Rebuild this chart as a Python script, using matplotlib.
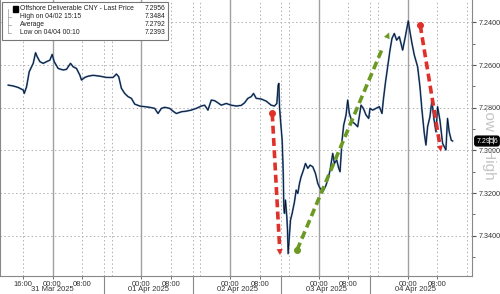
import numpy as np
import matplotlib
matplotlib.use("Agg")
import matplotlib.pyplot as plt
from matplotlib.patches import Rectangle

matplotlib.rcParams['font.family'] = ['Liberation Sans', 'DejaVu Sans']

# hours since 2025-03-31 00:00 and USD/CNH last price
hours = [-11.97, -10.62, -9.27, -7.92, -7.65, -7.02, -6.30, -5.67, -5.22, -4.59, -4.14, -3.42,
         -2.52, -1.62, -0.72, -0.09, 0.45, 1.53, 2.88, 3.78, 4.86, 5.58, 6.48, 7.38, 7.83, 8.73,
         9.63, 10.98, 12.78, 14.58, 16.37, 17.27, 17.90, 18.62, 19.52, 20.42, 21.32, 22.22, 23.57,
         24.92, 26.27, 27.62, 28.52, 29.42, 30.32, 31.67, 32.57, 33.47, 34.82, 36.17, 37.52, 38.87,
         40.22, 41.12, 42.02, 42.92, 43.82, 44.72, 45.61, 46.96, 48.31, 49.66, 51.01, 51.91, 52.81,
         53.71, 54.34, 55.06, 56.41, 57.76, 59.11, 60.01, 60.64, 61.00, 61.18, 61.36, 61.63, 62.08,
         62.35, 62.53, 62.71, 62.98, 63.34, 63.52, 63.70, 64.33, 64.78, 65.41, 65.86, 66.31, 66.76,
         67.21, 67.84, 68.38, 69.01, 69.64, 70.36, 71.08, 71.71, 72.34, 73.06, 73.78, 74.41, 75.04,
         75.75, 76.20, 76.83, 77.37, 77.73, 78.27, 78.72, 79.35, 79.80, 80.25, 80.97, 81.60, 82.50,
         83.40, 84.03, 84.75, 85.47, 85.83, 86.55, 87.45, 88.35, 89.07, 89.43, 89.97, 90.60, 91.23,
         91.77, 92.40, 93.03, 93.75, 94.65, 95.37, 96.17, 96.63, 97.17, 97.80, 98.70, 99.33, 99.87,
         100.50, 100.95, 101.40, 102.03, 102.57, 103.02, 103.65, 104.10, 104.73, 105.45, 106.34,
         106.79, 107.24, 107.79, 108.15]
price = [7.2694, 7.2698, 7.2705, 7.2717, 7.2733, 7.2702, 7.2631, 7.2608, 7.2592, 7.2542, 7.2561,
         7.2584, 7.2592, 7.2584, 7.2577, 7.2550, 7.2584, 7.2616, 7.2623, 7.2620, 7.2592, 7.2608,
         7.2616, 7.2647, 7.2670, 7.2658, 7.2652, 7.2648, 7.2652, 7.2658, 7.2658, 7.2642, 7.2655,
         7.2709, 7.2733, 7.2748, 7.2756, 7.2783, 7.2792, 7.2795, 7.2798, 7.2803, 7.2827, 7.2803,
         7.2798, 7.2803, 7.2816, 7.2827, 7.2819, 7.2816, 7.2811, 7.2803, 7.2792, 7.2788, 7.2811,
         7.2764, 7.2767, 7.2777, 7.2788, 7.2780, 7.2788, 7.2792, 7.2789, 7.2777, 7.2756, 7.2748,
         7.2733, 7.2756, 7.2759, 7.2769, 7.2788, 7.2792, 7.2780, 7.2694, 7.2686, 7.2795, 7.2858,
         7.2952, 7.3092, 7.3264, 7.3295, 7.3233, 7.3311, 7.3373, 7.3484, 7.3327, 7.3295, 7.3241,
         7.3186, 7.3202, 7.3155, 7.3123, 7.3092, 7.3061, 7.3084, 7.3069, 7.3077, 7.3108, 7.3155,
         7.3178, 7.3194, 7.3170, 7.3139, 7.3092, 7.3014, 7.3061, 7.3045, 7.3084, 7.3100, 7.2952,
         7.2881, 7.2834, 7.2764, 7.2827, 7.2866, 7.2873, 7.2889, 7.2788, 7.2803, 7.2834, 7.2850,
         7.2803, 7.2811, 7.2803, 7.2795, 7.2827, 7.2764, 7.2686, 7.2608, 7.2530, 7.2475, 7.2452,
         7.2483, 7.2467, 7.2530, 7.2467, 7.2393, 7.2444, 7.2498, 7.2553, 7.2608, 7.2702, 7.2811,
         7.2920, 7.2975, 7.2889, 7.2842, 7.2764, 7.2842, 7.2913, 7.2795, 7.2858, 7.2967, 7.2998,
         7.2850, 7.2913, 7.2952, 7.2956]

legend_rows = [("Offshore Deliverable CNY - Last Price", "7.2956"),
               ("High on 04/02 15:15", "7.3484"),
               ("Average", "7.2792"),
               ("Low on 04/04 00:10", "7.2393")]

# arrows: (start hour, start price, end hour, end price, colour)
arrows = [(59.4, 7.2827, 61.5, 7.3491, "#e0302a"),
          (66.1, 7.3467, 91.0, 7.2447, "#6b9a22"),
          (99.4, 7.2413, 105.0, 7.3006, "#e0302a")]

y_ticks = [7.24, 7.26, 7.28, 7.30, 7.32, 7.34]
x_labels = [(-8, "16:00"), (0, "00:00"), (8, "08:00"), (24, "00:00"), (32, "08:00"),
            (48, "00:00"), (56, "08:00"), (72, "00:00"), (80, "08:00"), (96, "00:00"), (104, "08:00")]
day_labels = [(0, "31 Mar 2025"), (26, "01 Apr 2025"), (50, "02 Apr 2025"),
              (74, "03 Apr 2025"), (98, "04 Apr 2025")]
day_breaks = [13.9, 38.0, 61.8, 85.8]

fig = plt.figure(figsize=(5, 2.94), dpi=100)
ax = fig.add_axes([0.0, 0.061, 0.944, 0.939])

xmin, xmax = -14.2, 113.4
ax.set_xlim(xmin, xmax)
ax.set_ylim(7.3589, 7.2295)

# grid
dots = (0, (1.5, 2.5))
for v in y_ticks:
    ax.axhline(v, color="#b0b0b0", lw=0.7, ls=dots, zorder=0)
for h in range(-8, 113, 8):
    if h % 24 == 0:
        ax.axvline(h, color="#a0a0a0", lw=1.0, zorder=0)
    else:
        ax.axvline(h, color="#b0b0b0", lw=0.7, ls=dots, zorder=0)
for h in day_breaks:
    ax.axvline(h, color="#b0b0b0", lw=0.7, ls=dots, zorder=0)

ax.plot(hours, price, color="#4a7cc0", lw=1.3, zorder=2)
ax.plot(hours, price, color="#111111", lw=0.6, zorder=3)

for x0, y0, x1, y1, c in arrows:
    ax.plot([x0, x0 + 0.93 * (x1 - x0)], [y0, y0 + 0.93 * (y1 - y0)],
            color=c, lw=2.6, ls=(0, (2.2, 1.2)), zorder=4)
    ax.plot([x0], [y0], "o", color=c, ms=4, zorder=4)
    ax.annotate("", xy=(x1, y1), xytext=(x0 + 0.9 * (x1 - x0), y0 + 0.9 * (y1 - y0)),
                arrowprops=dict(arrowstyle="-|>", color=c, lw=0, mutation_scale=11,
                                shrinkA=0, shrinkB=0), zorder=5)

# axes styling
ax.spines["top"].set_visible(False)
for s in ["left", "right", "bottom"]:
    ax.spines[s].set_color("#888888")
    ax.spines[s].set_linewidth(0.8)
ax.yaxis.tick_right()
ax.set_yticks(y_ticks)
ax.set_yticks([7.25, 7.27, 7.29, 7.31, 7.33, 7.35], minor=True)
ax.set_yticklabels(["%.4f" % v for v in y_ticks])
ax.tick_params(axis="y", which="major", length=3, width=0.8, color="#555555",
               labelsize=5.2, labelcolor="#333333", pad=1.5)
ax.tick_params(axis="y", which="minor", length=2, width=0.6, color="#555555")
ax.set_xticks([p for p, _ in x_labels])
ax.set_xticklabels([t for _, t in x_labels])
ax.tick_params(axis="x", length=2.5, width=0.6, color="#555555", labelsize=5.5,
               labelcolor="#333333", pad=1)

for p, t in day_labels:
    ax.text(p, -0.048, t, transform=ax.get_xaxis_transform(), ha="center", va="center",
            fontsize=5.5, color="#333333", clip_on=False)
for h in day_breaks:
    ax.plot([h, h], [0, -0.08], transform=ax.get_xaxis_transform(), color="#888888",
            lw=0.8, clip_on=False)

# last price tag
ax.annotate("7.2956", xy=(1.0, 7.2956), xycoords=ax.get_yaxis_transform(),
            xytext=(3, 0), textcoords="offset points", ha="left", va="center",
            fontsize=5.0, color="white", zorder=6, annotation_clip=False,
            bbox=dict(boxstyle="round,pad=0.2,rounding_size=0.3", fc="black", ec="black"))

# Low = High
fig.text(0.978, 0.52, "Low = High", rotation=270, ha="center", va="center",
         fontsize=11, color="#c4c4c4", zorder=1)

# legend box
ax.add_patch(Rectangle((0.004, 0.855), 0.352, 0.137, transform=ax.transAxes,
                       fc="white", ec="#777777", lw=0.8, zorder=7))
row_y = [0.969, 0.940, 0.910, 0.882]
for (lbl, val), yy in zip(legend_rows, row_y):
    ax.text(0.042, yy, lbl, transform=ax.transAxes, fontsize=4.9, color="#222222",
            va="center", ha="left", zorder=8)
    ax.text(0.350, yy, val, transform=ax.transAxes, fontsize=4.9, color="#222222",
            va="center", ha="right", zorder=8)
ax.add_patch(Rectangle((0.027, row_y[0] - 0.011), 0.011, 0.022, transform=ax.transAxes,
                       fc="black", ec="black", zorder=8))
ax.plot([0.016, 0.016], [row_y[0], row_y[3]], transform=ax.transAxes, color="#999999",
        lw=0.5, zorder=8)
for yy in row_y[1:]:
    ax.plot([0.016, 0.024], [yy, yy], transform=ax.transAxes, color="#999999", lw=0.5, zorder=8)

fig.savefig("out.png", dpi=100)
